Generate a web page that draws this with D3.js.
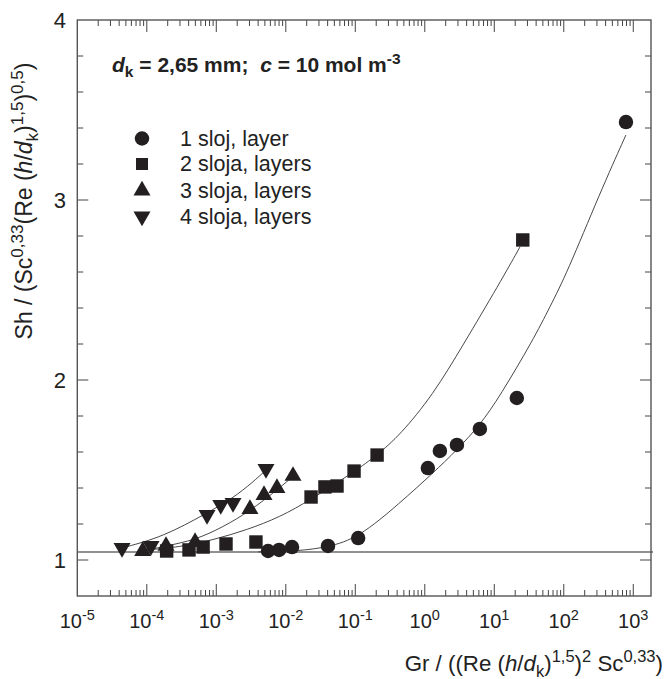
<!DOCTYPE html>
<html>
<head>
<meta charset="utf-8">
<script src="https://cdn.jsdelivr.net/npm/d3@7"></script>
<style>
  body { margin: 0; background: #fff; }
  svg { display: block; font-family: "Liberation Sans", Arial, sans-serif; }
  text { white-space: pre; }
</style>
</head>
<body>
<svg id="chart"></svg>
<script>
// measured points, one array pair per series
const layer1X = [0.00556, 0.008, 0.0123, 0.0405, 0.11, 1.107, 1.65, 2.9, 6.2, 21.1, 785];
const layer1Y = [1.05, 1.056, 1.072, 1.078, 1.122, 1.511, 1.606, 1.639, 1.728, 1.90, 3.433];

const layer2X = [1.93e-4, 4.05e-4, 6.46e-4, 1.38e-3, 3.72e-3, 0.0231, 0.0366, 0.0546, 0.096, 0.206, 25.7];
const layer2Y = [1.05, 1.056, 1.072, 1.089, 1.10, 1.35, 1.406, 1.411, 1.494, 1.583, 2.778];

const layer3X = [8.73e-5, 1.89e-4, 4.95e-4, 3.05e-3, 4.86e-3, 7.46e-3, 0.0127];
const layer3Y = [1.05, 1.078, 1.10, 1.283, 1.361, 1.40, 1.467];

const layer4X = [4.4e-5, 1.15e-4, 7.36e-4, 1.16e-3, 1.74e-3, 5.19e-3];
const layer4Y = [1.067, 1.078, 1.25, 1.306, 1.317, 1.506];

// fitted curves
const curve1X = [0.004, 0.0158, 0.0407, 0.11, 0.44, 1.31, 2.9, 6.22, 12.1, 36.1, 63.2, 111, 331, 783];
const curve1Y = [1.045, 1.05, 1.072, 1.122, 1.317, 1.483, 1.611, 1.75, 1.911, 2.222, 2.406, 2.594, 3.039, 3.361];

const curve2X = [1.0e-4, 3.0e-4, 8.9e-4, 2.75e-3, 8.3e-3, 0.0224, 0.1, 0.206, 0.44, 1.31, 3.55, 12.0, 23.4];
const curve2Y = [1.056, 1.072, 1.111, 1.167, 1.239, 1.333, 1.494, 1.583, 1.694, 1.917, 2.194, 2.539, 2.739];

const curve3X = [8.8e-5, 1.89e-4, 4.94e-4, 1.25e-3, 3.05e-3, 7.48e-3, 0.0145];
const curve3Y = [1.05, 1.078, 1.111, 1.183, 1.272, 1.389, 1.483];

const curve4X = [4.4e-5, 1.71e-4, 7.35e-4, 1.74e-3, 3.37e-3, 5.19e-3];
const curve4Y = [1.067, 1.128, 1.261, 1.344, 1.433, 1.5];

const baseLine = 1.045;

const legendLabels = ["1 sloj, layer", "2 sloja, layers", "3 sloja, layers", "4 sloja, layers"];
const yTickValues = [1, 2, 3, 4];
const xDecades = [-5, -4, -3, -2, -1, 0, 1, 2, 3];

// layout
let width = 666;
let height = 679;
let plotLeft = 77.3, plotRight = 651, plotTop = 20, plotBottom = 596;

let svg = d3.select("#chart")
  .attr("width", width)
  .attr("height", height);

let x = d3.scaleLog()
  .domain([1e-5, Math.pow(10, 3.255)])
  .range([plotLeft, plotRight]);

let y = d3.scaleLinear()
  .domain([0.8, 4])
  .range([plotBottom, plotTop]);

const ink = "#231f20";
const frameColor = "#555";

// reference line
svg.append("line")
  .attr("x1", plotLeft).attr("x2", plotRight + 2)
  .attr("y1", y(baseLine)).attr("y2", y(baseLine))
  .attr("stroke", "#6d6d6d")
  .attr("stroke-width", 1.5);

// ticks (inward, on all four sides)
let tickG = svg.append("g")
  .attr("stroke", "#444")
  .attr("stroke-width", 1);

xDecades.forEach((e) => {
  for (let m = 1; m < 10; m++) {
    let v = m * Math.pow(10, e);
    if (v > x.domain()[1] || v <= x.domain()[0]) continue;
    let len = m === 1 ? 12 : 6;
    let px = x(v);
    tickG.append("line").attr("x1", px).attr("x2", px).attr("y1", plotBottom).attr("y2", plotBottom - len);
    tickG.append("line").attr("x1", px).attr("x2", px).attr("y1", plotTop).attr("y2", plotTop + len);
  }
});

d3.range(1.0, 3.9, 0.2).forEach((v) => {
  let major = Math.abs(v - Math.round(v)) < 1e-6;
  let len = major ? 11 : 6;
  let py = y(v);
  tickG.append("line").attr("x1", plotLeft).attr("x2", plotLeft + len).attr("y1", py).attr("y2", py);
  tickG.append("line").attr("x1", plotRight).attr("x2", plotRight - len).attr("y1", py).attr("y2", py);
});

// frame
svg.append("rect")
  .attr("x", plotLeft).attr("y", plotTop)
  .attr("width", plotRight - plotLeft).attr("height", plotBottom - plotTop)
  .attr("fill", "none")
  .attr("stroke", frameColor)
  .attr("stroke-width", 1.4);

// y tick labels
svg.selectAll(".ylab")
  .data(yTickValues)
  .enter()
  .append("text")
  .attr("class", "ylab")
  .attr("x", 66)
  .attr("y", (d) => y(d))
  .attr("dy", "0.36em")
  .attr("text-anchor", "end")
  .attr("font-size", 22)
  .attr("fill", "#222")
  .text((d) => d);

// x tick labels: 10^n
xDecades.forEach((e) => {
  let t = svg.append("text")
    .attr("x", x(Math.pow(10, e)))
    .attr("y", 628)
    .attr("text-anchor", "middle")
    .attr("font-size", 20)
    .attr("fill", "#222");
  t.append("tspan").text("10");
  t.append("tspan").attr("dy", -8).attr("font-size", 14.5).text(e);
});

// rich text helper: parts of [text, kind]
function richText(sel, parts, size) {
  let shift = 0;
  parts.forEach((p) => {
    let kind = p[1] || "";
    let target = 0;
    let fs = size;
    if (kind.includes("sup")) { target = -0.4 * size; fs = size * 0.74; }
    if (kind.includes("sub")) { target = 0.25 * size; fs = size * 0.74; }
    let ts = sel.append("tspan")
      .attr("dy", target - shift)
      .attr("font-size", fs)
      .text(p[0]);
    if (kind.includes("it")) ts.attr("font-style", "italic");
    shift = target;
  });
}

// axis titles
let yTitle = svg.append("text")
  .attr("transform", "translate(32,201) rotate(-90)")
  .attr("text-anchor", "middle")
  .attr("fill", "#222");
richText(yTitle, [["Sh / (Sc"], ["0,33", "sup"], ["(Re ("], ["h", "it"], ["/"], ["d", "it"], ["k", "sub"], [")"], ["1,5", "sup"], [")"], ["0,5", "sup"], [")"]], 23);

let xTitle = svg.append("text")
  .attr("x", 663)
  .attr("y", 671)
  .attr("text-anchor", "end")
  .attr("fill", "#222");
richText(xTitle, [["Gr / ((Re ("], ["h", "it"], ["/"], ["d", "it"], ["k", "sub"], [")"], ["1,5", "sup"], [")"], ["2", "sup"], [" Sc"], ["0,33", "sup"], [")"]], 22.3);

// annotation
let note = svg.append("text")
  .attr("x", 112)
  .attr("y", 72)
  .attr("font-weight", "bold")
  .attr("fill", "#222");
richText(note, [["d", "it"], ["k", "sub"], [" = 2,65 mm;  "], ["c", "it"], [" = 10 mol m"], ["-3", "sup"]], 21);

// fitted curves
let line = d3.line()
  .x((d) => x(d[0]))
  .y((d) => y(d[1]))
  .curve(d3.curveBasis);

[[curve1X, curve1Y], [curve2X, curve2Y], [curve3X, curve3Y], [curve4X, curve4Y]].forEach((c) => {
  svg.append("path")
    .datum(d3.zip(c[0], c[1]))
    .attr("d", line)
    .attr("fill", "none")
    .attr("stroke", "#333")
    .attr("stroke-width", 0.9);
});

// markers
const symbols = [
  { type: d3.symbolCircle, size: 165, rot: 0 },
  { type: d3.symbolSquare, size: 180, rot: 0 },
  { type: d3.symbolTriangle, size: 125, rot: 0 },
  { type: d3.symbolTriangle, size: 125, rot: 180 }
];
const series = [[layer1X, layer1Y], [layer2X, layer2Y], [layer3X, layer3Y], [layer4X, layer4Y]];

series.forEach((s, i) => {
  let sym = symbols[i];
  svg.append("g")
    .selectAll("path")
    .data(d3.zip(s[0], s[1]))
    .enter()
    .append("path")
    .attr("d", d3.symbol().type(sym.type).size(sym.size))
    .attr("transform", (d) => "translate(" + x(d[0]) + "," + y(d[1]) + ") rotate(" + sym.rot + ")")
    .attr("fill", ink);
});

// legend
let legendY = [138.5, 164, 190.5, 216.5];
legendLabels.forEach((lab, i) => {
  let sym = symbols[i];
  svg.append("path")
    .attr("d", d3.symbol().type(sym.type).size(sym.size * (i === 1 ? 0.8 : 1)))
    .attr("transform", "translate(142," + legendY[i] + ") rotate(" + sym.rot + ")")
    .attr("fill", ink);
  svg.append("text")
    .attr("x", 180)
    .attr("y", legendY[i] + 7)
    .attr("font-size", 21.5)
    .attr("fill", "#222")
    .text(lab);
});
</script>
</body>
</html>
